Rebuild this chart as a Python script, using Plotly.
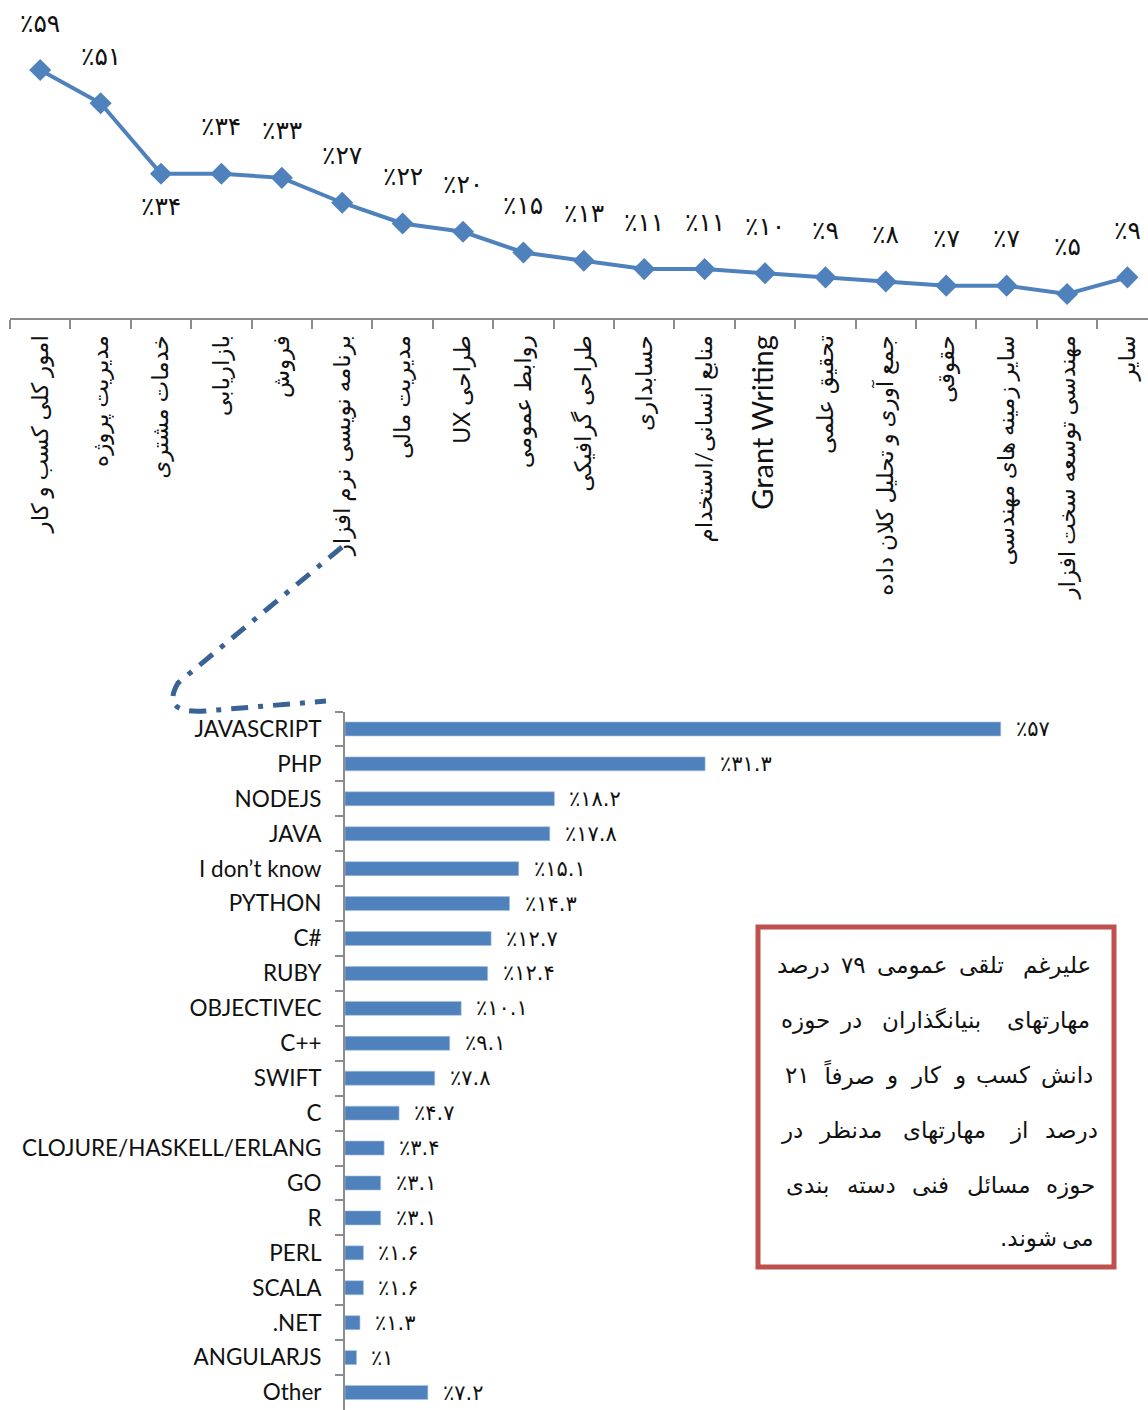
import plotly.graph_objects as go

W, H = 1148, 1410

# top chart: skill areas (line)
skill_areas = [
    "امور کلی کسب و کار", "مدیریت پروژه", "خدمات مشتری", "بازاریابی", "فروش",
    "برنامه نویسی نرم افزار", "مدیریت مالی", "UX طراحی", "روابط عمومی",
    "طراحی گرافیکی", "حسابداری", "منابع انسانی/استخدام", "Grant Writing",
    "تحقیق علمی", "جمع آوری و تحلیل کلان داده", "حقوقی",
    "سایر زمینه های مهندسی", "مهندسی توسعه سخت افزار", "سایر",
]
skill_pct = [59, 51, 34, 34, 33, 27, 22, 20, 15, 13, 11, 11, 10, 9, 8, 7, 7, 5, 9]

# bottom chart: languages (bars)
languages = [
    "JAVASCRIPT", "PHP", "NODEJS", "JAVA", "I don’t know", "PYTHON", "C#", "RUBY",
    "OBJECTIVEC", "C++", "SWIFT", "C", "CLOJURE/HASKELL/ERLANG", "GO", "R",
    "PERL", "SCALA", ".NET", "ANGULARJS", "Other",
]
language_pct = [57, 31.3, 18.2, 17.8, 15.1, 14.3, 12.7, 12.4, 10.1, 9.1, 7.8,
                4.7, 3.4, 3.1, 3.1, 1.6, 1.6, 1.3, 1, 7.2]

note_lines = [
    "علیرغم تلقی عمومی ۷۹ درصد",
    "مهارتهای بنیانگذاران در حوزه",
    "دانش کسب و کار و صرفاً ۲۱",
    "درصد از مهارتهای مدنظر در",
    "حوزه مسائل فنی دسته بندی",
    "می شوند.",
]

BLUE = "#4F81BD"
GRAY = "#8C8C8C"
FA_DIGITS = str.maketrans("0123456789", "۰۱۲۳۴۵۶۷۸۹")
LAT = "Lato, 'DejaVu Sans', sans-serif"
FA = "'DejaVu Sans', sans-serif"
RLM = "\u200f"


def fa_pct(v):
    return "٪" + f"{v:g}".translate(FA_DIGITS)


def px(x):
    return x / W


def py(y):
    return 1 - y / H


def tick_label(s):
    # latin label is drawn larger in the source
    if s.isascii():
        return f'<span style="font-size:29px">{s}</span>'
    return s


def word_w(w):
    # rough rendered width of a persian word at the box font size
    total = 0
    for c in w:
        if c in "\u064b":
            continue
        if c in "اآردذزژو.":
            total += 8.5
        elif c in "سشصضطظحخجچ":
            total += 16
        elif c in "۰۱۲۳۴۵۶۷۸۹":
            total += 14.5
        else:
            total += 11
    if w[-1] in "بپتثنیفقکگلمسش":
        total += 7
    return total


fig = go.Figure()

fig.add_trace(go.Scatter(
    x=skill_areas, y=skill_pct, mode="lines+markers",
    line=dict(color=BLUE, width=4),
    marker=dict(symbol="diamond", size=17, color=BLUE),
    xaxis="x", yaxis="y", showlegend=False, cliponaxis=False,
))

fig.add_trace(go.Bar(
    x=language_pct, y=languages, orientation="h", width=0.4,
    marker=dict(color=BLUE, line=dict(color="#A7C0DE", width=0.6)),
    xaxis="x2", yaxis="y2", showlegend=False,
))

annotations = []
for i, (cat, v) in enumerate(zip(skill_areas, skill_pct)):
    annotations.append(dict(
        x=cat, y=v, xref="x", yref="y", text=fa_pct(v), showarrow=False,
        yshift=-33 if i == 2 else 47, font=dict(family=FA, size=25, color="#111"),
    ))
for lang, v in zip(languages, language_pct):
    annotations.append(dict(
        x=v, y=lang, xref="x2", yref="y2", text=fa_pct(v), showarrow=False,
        xanchor="left", xshift=13, font=dict(family=FA, size=21, color="#111"),
    ))

# note box: right-to-left, justified lines (word by word)
box_l, box_r = 783, 1092
line_y = [965, 1020, 1075, 1130, 1185, 1238]
for k, (txt, yy) in enumerate(zip(note_lines, line_y)):
    words = txt.split(" ")
    widths = [word_w(w) for w in words]
    if k < len(note_lines) - 1:
        gap = (box_r - box_l - sum(widths)) / (len(words) - 1)
    else:
        gap = 8
    x0 = box_r
    for w, ww in zip(words, widths):
        annotations.append(dict(
            x=px(x0 - ww / 2), y=py(yy), xref="paper", yref="paper",
            text=w + RLM, showarrow=False, xanchor="center", yanchor="middle",
            font=dict(family=FA, size=23, color="#111"),
        ))
        x0 -= ww + gap

shapes = [
    dict(type="rect", xref="paper", yref="paper",
         x0=px(758), x1=px(1114), y0=py(927), y1=py(1267),
         line=dict(color="#C0504D", width=5)),
]

# dash-dot connector from the programming label to the language chart
path = "M {},{} L {},{} Q {},{} {},{} L {},{}".format(
    px(342), py(547), px(178), py(683), px(160), py(714),
    px(205), py(711), px(326), py(701))
shapes.append(dict(type="path", xref="paper", yref="paper", path=path,
                   line=dict(color="#3B6295", width=5, dash="17px,10px,5px,10px")))

fig.update_layout(
    width=W, height=H,
    margin=dict(l=0, r=0, t=0, b=0),
    paper_bgcolor="white", plot_bgcolor="rgba(0,0,0,0)",
    showlegend=False,
    xaxis=dict(
        domain=[px(10), 1], range=[-0.5, 18.34], anchor="y",
        showgrid=False, zeroline=False,
        showline=True, linecolor=GRAY, linewidth=2,
        ticks="outside", tickson="boundaries", ticklen=9, tickcolor=GRAY, tickwidth=2,
        tickmode="array", tickvals=skill_areas,
        ticktext=[tick_label(s) for s in skill_areas],
        tickangle=-90, tickfont=dict(family=LAT, size=23, color="#111"),
        ticklabelstandoff=6,
    ),
    yaxis=dict(domain=[py(318), 1], range=[-0.8, 75.9], visible=False),
    xaxis2=dict(domain=[px(345), 1], range=[0, 69.8], anchor="y2", visible=False),
    yaxis2=dict(
        domain=[0, py(711.5)], range=[19.5, -0.5], anchor="x2",
        showgrid=False, zeroline=False,
        showline=True, linecolor=GRAY, linewidth=2,
        ticks="outside", tickson="boundaries", ticklen=8, tickcolor=GRAY, tickwidth=2,
        tickfont=dict(family=LAT, size=22.5, color="#111"), ticklabelstandoff=17,
    ),
    annotations=annotations,
    shapes=shapes,
)

fig.write_html("out.html", config={"displayModeBar": False},
               post_script="document.body.style.margin='0';")
